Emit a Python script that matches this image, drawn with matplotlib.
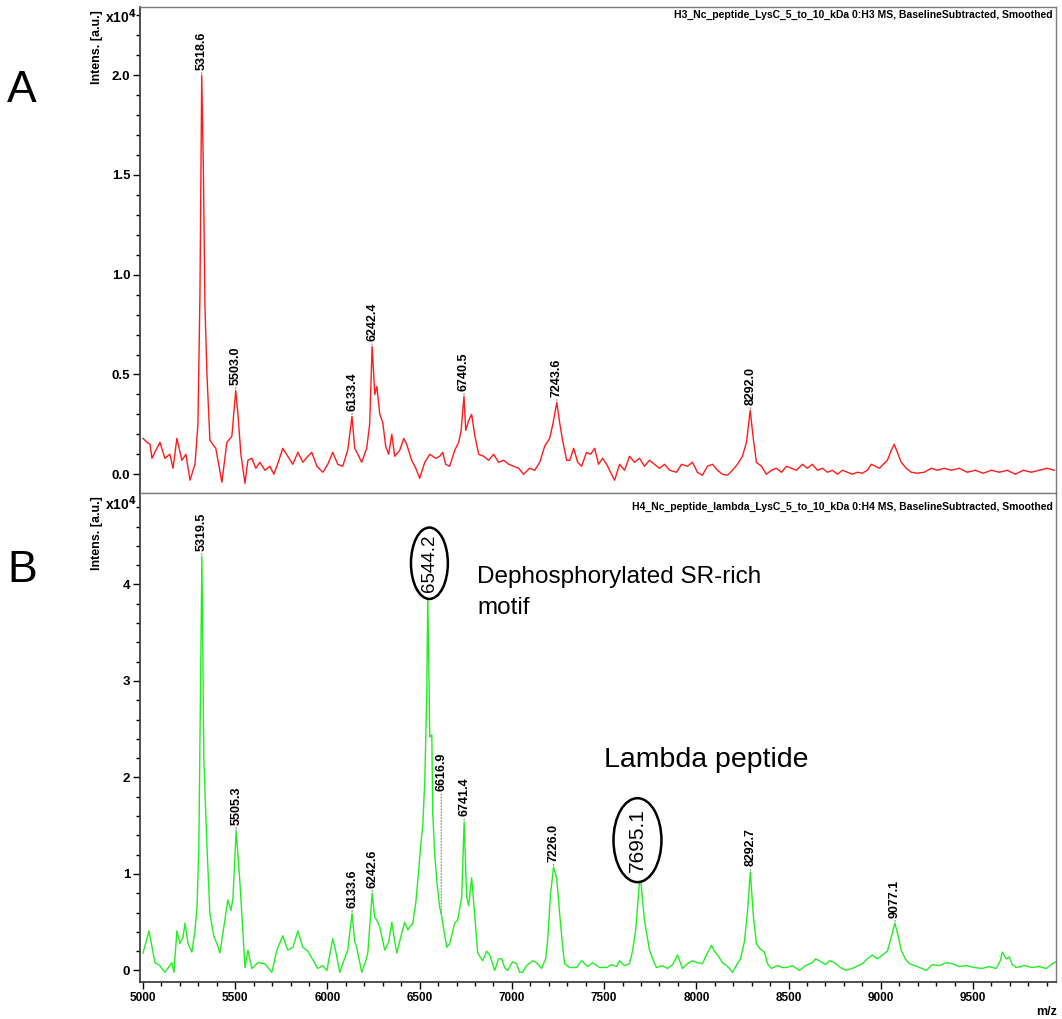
import numpy as np
import matplotlib
matplotlib.use("Agg")
import matplotlib.pyplot as plt
from matplotlib.patches import Ellipse

plt.rcParams['font.family'] = ['Liberation Sans', 'DejaVu Sans']

# spectrum A (H3), intensity in x10^4 a.u.
mz_A = [5000, 5022, 5038, 5049, 5070, 5092, 5119, 5146, 5163, 5184,
        5211, 5233, 5255, 5282, 5298, 5309, 5318.6, 5328, 5336, 5347,
        5363, 5379, 5395, 5428, 5455, 5482, 5503.0, 5515, 5531, 5553,
        5569, 5590, 5612, 5634, 5661, 5688, 5710, 5737, 5758, 5785,
        5812, 5840, 5867, 5894, 5915, 5943, 5975, 6002, 6029, 6056,
        6083, 6110, 6133.4, 6148, 6165, 6186, 6213, 6229, 6242.4, 6257,
        6268, 6284, 6300, 6316, 6332, 6349, 6365, 6392, 6414, 6430,
        6457, 6479, 6500, 6528, 6555, 6587, 6609, 6625, 6641, 6663,
        6690, 6712, 6725, 6740.5, 6750, 6766, 6782, 6798, 6820, 6847,
        6874, 6901, 6928, 6956, 6983, 7010, 7037, 7064, 7096, 7124,
        7151, 7178, 7205, 7222, 7243.6, 7259, 7275, 7297, 7314, 7335,
        7357, 7378, 7405, 7427, 7449, 7470, 7492, 7514, 7535, 7557,
        7584, 7611, 7638, 7665, 7692, 7719, 7746, 7773, 7800, 7828,
        7855, 7893, 7920, 7952, 7979, 8006, 8033, 8060, 8088, 8115,
        8142, 8169, 8196, 8223, 8250, 8272, 8292.0, 8310, 8326, 8353,
        8380, 8407, 8434, 8462, 8489, 8516, 8543, 8575, 8602, 8629,
        8657, 8684, 8711, 8738, 8765, 8792, 8819, 8846, 8873, 8900,
        8927, 8949, 8971, 8992, 9014, 9036, 9057, 9073, 9090, 9111,
        9138, 9165, 9198, 9236, 9274, 9306, 9344, 9382, 9426, 9469,
        9512, 9556, 9599, 9642, 9686, 9729, 9772, 9816, 9859, 9902,
        9940]
int_A = [0.18, 0.16, 0.15, 0.08, 0.12, 0.16, 0.08, 0.10, 0.03, 0.18,
         0.07, 0.10, -0.03, 0.05, 0.25, 0.90, 2.00, 1.50, 0.85, 0.50,
         0.17, 0.15, 0.13, -0.04, 0.16, 0.19, 0.42, 0.30, 0.10, -0.045,
         0.07, 0.08, 0.03, 0.06, 0.02, 0.04, 0.00, 0.07, 0.13, 0.09,
         0.05, 0.11, 0.06, 0.09, 0.11, 0.04, 0.01, 0.05, 0.11, 0.05,
         0.04, 0.12, 0.29, 0.13, 0.10, 0.06, 0.13, 0.25, 0.64, 0.40,
         0.44, 0.30, 0.26, 0.14, 0.10, 0.20, 0.09, 0.12, 0.18, 0.15,
         0.07, 0.03, -0.02, 0.06, 0.10, 0.08, 0.09, 0.11, 0.05, 0.04,
         0.12, 0.16, 0.22, 0.39, 0.22, 0.27, 0.30, 0.20, 0.10, 0.09,
         0.07, 0.10, 0.06, 0.07, 0.05, 0.04, 0.03, 0.00, 0.03, 0.02,
         0.06, 0.14, 0.18, 0.25, 0.36, 0.26, 0.17, 0.07, 0.07, 0.13,
         0.06, 0.04, 0.11, 0.10, 0.13, 0.05, 0.08, 0.05, 0.01, -0.03,
         0.05, 0.02, 0.09, 0.06, 0.08, 0.04, 0.07, 0.05, 0.03, 0.05,
         0.02, 0.01, 0.05, 0.04, 0.06, 0.01, -0.005, 0.04, 0.05, 0.02,
         0.00, -0.005, 0.02, 0.05, 0.09, 0.16, 0.32, 0.17, 0.06, 0.04,
         0.00, 0.02, 0.03, 0.01, 0.04, 0.03, 0.02, 0.05, 0.03, 0.05,
         0.02, 0.03, 0.01, 0.02, 0.00, 0.02, 0.01, 0.00, 0.01, 0.005,
         0.02, 0.05, 0.04, 0.03, 0.05, 0.07, 0.12, 0.15, 0.11, 0.06,
         0.03, 0.01, 0.005, 0.01, 0.03, 0.02, 0.03, 0.02, 0.03, 0.01,
         0.02, 0.005, 0.02, 0.01, 0.02, 0.00, 0.02, 0.01, 0.02, 0.03,
         0.02]

# spectrum B (H4 + lambda peptide)
mz_B = [5000, 5033, 5065, 5092, 5119, 5157, 5168, 5184, 5200, 5217,
        5228, 5244, 5265, 5282, 5293, 5303, 5319.5, 5330, 5347, 5363,
        5385, 5401, 5417, 5444, 5460, 5477, 5488, 5505.3, 5525, 5542,
        5553, 5569, 5590, 5623, 5661, 5699, 5726, 5758, 5785, 5813,
        5840, 5867, 5894, 5915, 5948, 5975, 5997, 6029, 6045, 6067,
        6089, 6110, 6133.6, 6148, 6159, 6186, 6208, 6219, 6242.6, 6257,
        6268, 6284, 6311, 6333, 6349, 6365, 6376, 6398, 6419, 6436,
        6446, 6463, 6479, 6490, 6506, 6517, 6528, 6539, 6544.2, 6555,
        6566, 6571, 6582, 6593, 6609, 6616.9, 6625, 6647, 6663, 6690,
        6706, 6728, 6741.4, 6755, 6766, 6782, 6798, 6815, 6842, 6863,
        6880, 6907, 6928, 6945, 6961, 6977, 7004, 7026, 7042, 7058,
        7080, 7113, 7134, 7161, 7183, 7194, 7210, 7226.0, 7243, 7259,
        7275, 7286, 7314, 7351, 7378, 7411, 7438, 7476, 7514, 7541,
        7568, 7584, 7611, 7638, 7654, 7671, 7687, 7695.1, 7719, 7746,
        7768, 7784, 7817, 7844, 7871, 7898, 7925, 7952, 7979, 8006,
        8033, 8060, 8082, 8098, 8115, 8142, 8163, 8180, 8196, 8217,
        8239, 8261, 8277, 8292.7, 8310, 8326, 8347, 8369, 8386, 8407,
        8440, 8467, 8489, 8521, 8559, 8592, 8629, 8646, 8667, 8700,
        8722, 8749, 8781, 8813, 8857, 8900, 8927, 8955, 8982, 9009,
        9036, 9057, 9077.1, 9095, 9111, 9133, 9155, 9198, 9247, 9279,
        9317, 9355, 9388, 9426, 9464, 9507, 9550, 9588, 9626, 9648,
        9659, 9680, 9697, 9713, 9734, 9778, 9821, 9859, 9897, 9924,
        9957]
int_B = [0.18, 0.41, 0.08, 0.05, -0.02, 0.08, -0.02, 0.41, 0.28, 0.34,
         0.49, 0.28, 0.19, 0.41, 0.65, 1.28, 4.29, 2.20, 1.28, 0.59,
         0.35, 0.28, 0.18, 0.52, 0.73, 0.62, 0.75, 1.45, 0.93, 0.40,
         0.03, 0.21, 0.02, 0.08, 0.07, -0.02, 0.21, 0.36, 0.21, 0.24,
         0.41, 0.24, 0.20, 0.13, 0.02, 0.05, 0.00, 0.33, 0.20, -0.02,
         0.10, 0.21, 0.59, 0.30, 0.24, -0.02, 0.10, 0.18, 0.80, 0.55,
         0.52, 0.45, 0.21, 0.30, 0.50, 0.30, 0.18, 0.35, 0.50, 0.42,
         0.45, 0.49, 0.70, 0.93, 1.30, 1.50, 1.97, 2.90, 3.90, 2.42,
         2.44, 1.63, 1.20, 0.93, 0.65, 0.59, 0.49, 0.24, 0.28, 0.49,
         0.52, 0.76, 1.54, 0.76, 0.67, 0.96, 0.59, 0.18, 0.10, 0.20,
         0.16, 0.00, 0.12, 0.12, 0.03, 0.00, 0.09, 0.07, -0.02, -0.02,
         0.05, 0.10, 0.08, 0.02, 0.12, 0.31, 0.80, 1.07, 0.96, 0.59,
         0.25, 0.07, 0.03, 0.03, 0.10, 0.04, 0.08, 0.03, 0.03, 0.06,
         0.04, 0.10, 0.05, 0.07, 0.20, 0.41, 0.80, 1.00, 0.52, 0.21,
         0.10, 0.03, 0.05, 0.02, 0.06, 0.16, 0.02, 0.07, 0.10, 0.08,
         0.07, 0.18, 0.26, 0.20, 0.16, 0.08, 0.05, 0.02, -0.02, 0.05,
         0.12, 0.30, 0.60, 1.02, 0.55, 0.28, 0.22, 0.19, 0.07, 0.02,
         0.05, 0.03, 0.03, 0.05, 0.00, 0.05, 0.08, 0.12, 0.10, 0.06,
         0.10, 0.08, 0.03, 0.00, 0.03, 0.07, 0.12, 0.16, 0.12, 0.16,
         0.20, 0.35, 0.49, 0.35, 0.21, 0.12, 0.07, 0.04, 0.00, 0.06,
         0.05, 0.08, 0.07, 0.04, 0.05, 0.03, 0.02, 0.04, 0.02, 0.10,
         0.19, 0.12, 0.14, 0.06, 0.03, 0.05, 0.03, 0.04, 0.02, 0.06,
         0.10]

peaks_A = [5318.6, 5503.0, 6133.4, 6242.4, 6740.5, 7243.6, 8292.0]
peaks_B = [5319.5, 5505.3, 6133.6, 6242.6, 6616.9, 6741.4, 7226.0, 8292.7, 9077.1]
circled_B = [6544.2, 7695.1]

title_A = "H3_Nc_peptide_LysC_5_to_10_kDa 0:H3 MS, BaselineSubtracted, Smoothed"
title_B = "H4_Nc_peptide_lambda_LysC_5_to_10_kDa 0:H4 MS, BaselineSubtracted, Smoothed"

W, H = 1062, 1019
fig = plt.figure(figsize=(W / 100, H / 100), dpi=100)


def fx(px):
    return px / W


def fy(py):
    return 1 - py / H


axA = fig.add_axes([fx(140), fy(493), fx(1056) - fx(140), fy(7) - fy(493)])
axB = fig.add_axes([fx(140), fy(982), fx(1056) - fx(140), fy(493) - fy(982)])

axA.plot(mz_A, int_A, color='#ff1a1a', lw=1.0)
axB.plot(mz_B, int_B, color='#22ee22', lw=1.0)

for ax in (axA, axB):
    ax.set_xlim(4984, 9950)
    ax.xaxis.set_major_locator(plt.MultipleLocator(500))
    ax.xaxis.set_minor_locator(plt.MultipleLocator(100))
    ax.tick_params(which='both', direction='out', width=1, pad=2)
    ax.tick_params(axis='x', labelsize=8.5)
    ax.tick_params(axis='y', labelsize=9.5)
    ax.tick_params(which='major', length=5)
    ax.tick_params(which='minor', length=3)
    for s in ('top', 'right'):
        ax.spines[s].set_color('#7a7a7a')
        ax.spines[s].set_linewidth(1)
    ax.spines['left'].set_color('#404040')
    ax.spines['left'].set_linewidth(1.3)

axA.set_ylim(-0.094, 2.342)
axA.set_yticks([0, 0.5, 1.0, 1.5, 2.0])
axA.yaxis.set_minor_locator(plt.MultipleLocator(0.1))
axA.set_yticklabels(['0.0', '0.5', '1.0', '1.5', '2.0'], fontweight='bold')
axA.tick_params(axis='x', which='both', bottom=False, labelbottom=False)
axA.spines['bottom'].set_color('#505050')

axB.set_ylim(-0.12, 4.948)
axB.set_yticks([0, 1, 2, 3, 4])
axB.yaxis.set_minor_locator(plt.MultipleLocator(0.2))
axB.set_yticklabels(['0', '1', '2', '3', '4'], fontweight='bold')
axB.set_xticks([5000, 5500, 6000, 6500, 7000, 7500, 8000, 8500, 9000, 9500])
axB.set_xticklabels([str(v) for v in axB.get_xticks()], fontweight='bold')
axB.spines['bottom'].set_color('#404040')
axB.spines['bottom'].set_linewidth(1.3)


def peak_label(ax, inten, pos, gap=4):
    ax.annotate(f"{pos:.1f}", xy=(pos, inten), xytext=(0, gap),
                textcoords='offset points', rotation=90, ha='center', va='bottom',
                fontsize=9, fontweight='bold',
                arrowprops=dict(arrowstyle='-', linestyle=':', color='#888888',
                                lw=0.8, shrinkA=0, shrinkB=0))


for p in peaks_A:
    peak_label(axA, np.interp(p, mz_A, int_A), p)
for p in peaks_B:
    g = 88 if p == 6616.9 else 4
    peak_label(axB, np.interp(p, mz_B, int_B), p, gap=g)

# circled peaks in panel B
circ_pos = {6544.2: (6553, 4.22, 200, 0.74), 7695.1: (7681, 1.35, 260, 0.87)}
for p in circled_B:
    cx, cy, w, h = circ_pos[p]
    axB.add_patch(Ellipse((cx, cy), w, h, fc='white', ec='black', lw=1.8, zorder=5))
    axB.text(cx, cy, f"{p:.1f}", rotation=90, ha='center', va='center',
             fontsize=13.5 if p == 6544.2 else 15, zorder=6)

fig.text(fx(477), fy(566), "Dephosphorylated SR-rich\nmotif", fontsize=17.5,
         ha='left', va='top', linespacing=1.5)
fig.text(fx(706), fy(760), "Lambda peptide", fontsize=20.5, ha='center', va='center')

fig.text(fx(1053), fy(15), title_A, fontsize=7.5, fontweight='bold', ha='right', va='center')
fig.text(fx(1053), fy(507), title_B, fontsize=7.5, fontweight='bold', ha='right', va='center')

for ytop, yx in ((10, 17), (496, 504)):
    fig.text(fx(97), fy(ytop), "Intens. [a.u.]", rotation=90, fontsize=9,
             fontweight='bold', ha='center', va='top')
    fig.text(fx(121), fy(yx), r"x10$^{\mathbf{4}}$", fontsize=10,
             fontweight='bold', ha='center', va='center')

fig.text(fx(1047), fy(1012), "m/z", fontsize=9, fontweight='bold', ha='center', va='center')

fig.text(fx(22), fy(90), "A", fontsize=32, ha='center', va='center')
fig.text(fx(22), fy(570), "B", fontsize=32, ha='center', va='center')

fig.savefig("out.png", dpi=100, facecolor='white')
